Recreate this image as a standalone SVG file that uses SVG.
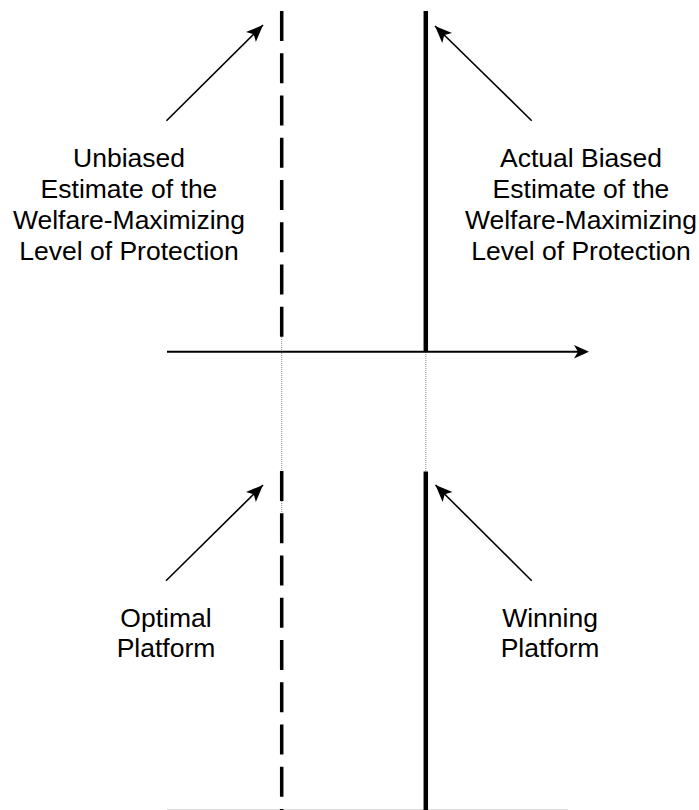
<svg xmlns="http://www.w3.org/2000/svg" width="699" height="810" viewBox="0 0 699 810">
<style>
text{font-family:"Liberation Sans",Arial,sans-serif;font-size:26.5px;fill:#000;text-anchor:middle}
.ptr{stroke:#000;stroke-width:1.6;fill:none;marker-end:url(#head)}
.dash{stroke:#000;stroke-width:3.5;stroke-dasharray:30 12.25;fill:none}
.solid{stroke:#000;stroke-width:4.5;fill:none}
.dot{stroke:#888;stroke-width:1;stroke-dasharray:1 1;fill:none}
</style>
<defs>
<marker id="head" markerUnits="userSpaceOnUse" markerWidth="20" markerHeight="16" refX="18" refY="8" orient="auto" viewBox="0 0 20 16">
<path d="M18,8 L1,1 L5,8 L1,15 Z" fill="#000"/>
</marker>
</defs>
<rect width="699" height="810" fill="#fff"/>
<g id="guides">
<line class="dot" x1="281.7" y1="337" x2="281.7" y2="513"/>
<line class="dot" x1="425.8" y1="352" x2="425.8" y2="472"/>
<line x1="167" y1="809.5" x2="568" y2="809.5" stroke="#ddd" stroke-width="1"/>
</g>
<g id="unbiased-line-top"><line class="dash" x1="281.7" y1="11" x2="281.7" y2="337"/></g>
<g id="biased-line-top"><line class="solid" x1="425.8" y1="11" x2="425.8" y2="352"/></g>
<g id="optimal-line"><line class="dash" x1="281.7" y1="471" x2="281.7" y2="810"/></g>
<g id="winning-line"><line class="solid" x1="425.8" y1="471.5" x2="425.8" y2="810"/></g>
<g id="axis">
<line x1="167" y1="351.8" x2="578" y2="351.8" stroke="#000" stroke-width="2"/>
<path d="M589,351.8 L574,345 L578,351.8 L574,358.6 Z" fill="#000"/>
</g>
<g id="connectors">
<line class="ptr" x1="166.5" y1="120.7" x2="263" y2="25"/>
<line class="ptr" x1="531.7" y1="120.7" x2="435" y2="26"/>
<line class="ptr" x1="166" y1="580.7" x2="263" y2="485"/>
<line class="ptr" x1="531.7" y1="580.7" x2="435.5" y2="485"/>
</g>
<g id="label-unbiased">
<text x="129" y="167">Unbiased</text>
<text x="129" y="198">Estimate of the</text>
<text x="129" y="229">Welfare-Maximizing</text>
<text x="129" y="260">Level of Protection</text>
</g>
<g id="label-biased">
<text x="581" y="167">Actual Biased</text>
<text x="581" y="198">Estimate of the</text>
<text x="581" y="229">Welfare-Maximizing</text>
<text x="581" y="260">Level of Protection</text>
</g>
<g id="label-optimal">
<text x="166" y="627">Optimal</text>
<text x="166" y="657">Platform</text>
</g>
<g id="label-winning">
<text x="550" y="627">Winning</text>
<text x="550" y="657">Platform</text>
</g>
</svg>
